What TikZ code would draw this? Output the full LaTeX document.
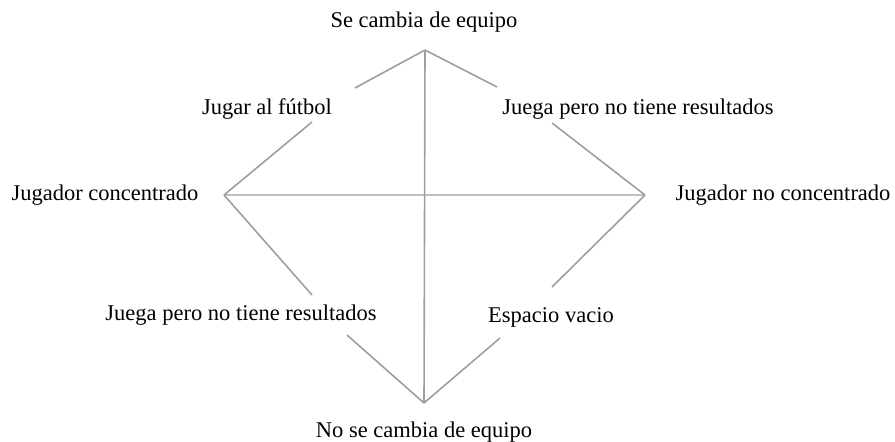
\documentclass[tikz,border=0pt]{standalone}
\usepackage{fontspec}
\setmainfont{Liberation Serif}
\newfontfamily\lblfont{Liberation Serif}
\begin{document}
\begin{tikzpicture}[x=1pt,y=-1pt,
  lbl/.style={inner sep=0pt, font=\lblfont\fontsize{22.5}{26}\selectfont, text=black},
  conn/.style={draw=black!38, line width=1.6pt},
  axis/.style={draw=black!25, line width=2.6pt}]
\useasboundingbox (0,0) rectangle (895,442);
% vertices
\coordinate (T) at (425,50);
\coordinate (B) at (424,403);
\coordinate (L) at (224,195);
\coordinate (R) at (645,195);
% labels
\node[lbl] (top) at (424,22) {Se cambia de equipo};
\node[lbl] (bot) at (424,432) {No se cambia de equipo};
\node[lbl] (lft) at (105,195) {Jugador concentrado};
\node[lbl] (rgt) at (783,195) {Jugador no concentrado};
\node[lbl] (jf) at (267,109) {Jugar al fútbol};
\node[lbl] (jr1) at (638,109) {Juega pero no tiene resultados};
\node[lbl] (jr2) at (241,315) {Juega pero no tiene resultados};
\node[lbl] (ev) at (551,317) {Espacio vacio};
% free ends
\coordinate (a1) at (355,88);
\coordinate (a2) at (312,122);
\coordinate (b1) at (497,87);
\coordinate (b2) at (552,123);
\coordinate (c1) at (312,295);
\coordinate (c2) at (347,335);
\coordinate (d1) at (552,287);
\coordinate (d2) at (500,338);
% axes
\draw[axis] (L) -- (R);
\draw[conn] (T) -- (B);
% connectors
\draw[conn] (T) -- (a1);
\draw[conn] (a2) -- (L);
\draw[conn] (T) -- (b1);
\draw[conn] (b2) -- (R);
\draw[conn] (L) -- (c1);
\draw[conn] (c2) -- (B);
\draw[conn] (R) -- (d1);
\draw[conn] (d2) -- (B);
\end{tikzpicture}
\end{document}
